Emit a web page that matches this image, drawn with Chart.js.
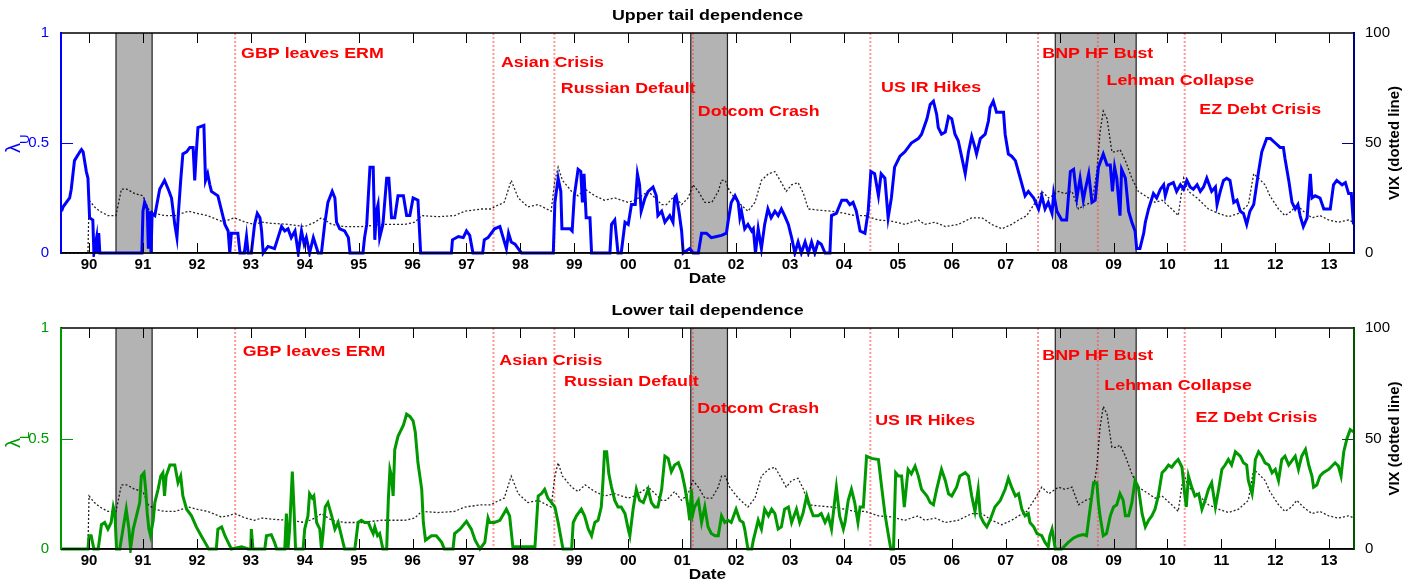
<!DOCTYPE html>
<html>
<head>
<meta charset="utf-8">
<title>Tail dependence and VIX</title>
<script src="https://cdn.jsdelivr.net/npm/chart.js@4.4.1/dist/chart.umd.min.js"></script>
<style>
  body { margin: 0; background: #fff; }
  #wrap { position: relative; width: 1418px; height: 585px; }
  canvas { position: absolute; left: 0; }
</style>
</head>
<body>
<div id="wrap">
  <canvas id="upperChart" width="1418" height="295" style="top:0"></canvas>
  <canvas id="lowerChart" width="1418" height="290" style="top:295px"></canvas>
</div>
<script>
// x axis: decimal years, labelled with two-digit years
const yearTicks = [1990, 1991, 1992, 1993, 1994, 1995, 1996, 1997, 1998, 1999, 2000, 2001,
  2002, 2003, 2004, 2005, 2006, 2007, 2008, 2009, 2010, 2011, 2012, 2013];
const lambdaTicks = [0, 0.5, 1];
const vixTicks = [0, 50, 100];

// recessions (shaded) and market events (red dotted lines)
const recessionStarts = [1990.5, 2001.16, 2007.92];
const recessionEnds = [1991.17, 2001.84, 2009.42];
const eventNames = ['GBP leaves ERM', 'Asian Crisis', 'Russian Default', 'Dotcom Crash',
  'US IR Hikes', 'BNP HF Bust', 'Lehman Collapse', 'EZ Debt Crisis'];
const eventDates = [1992.71, 1997.5, 1998.63, 2001.2, 2004.49, 2007.6, 2008.71, 2010.32];

// upper tail dependence [date, lambda_U]
const upperTail = [
  [1989.49, 0.19], [1989.52, 0.21], [1989.64, 0.25], [1989.67, 0.29], [1989.73, 0.42], [1989.83, 0.46],
  [1989.86, 0.47], [1989.89, 0.46], [1989.95, 0.37], [1989.98, 0.34], [1990.01, 0.16], [1990.07, 0.15],
  [1990.09, 0], [1990.14, 0.07], [1990.15, 0], [1990.18, 0.09], [1990.2, 0], [1990.98, 0],
  [1991.0, 0.19], [1991.03, 0.23], [1991.08, 0.2], [1991.1, 0.02], [1991.13, 0.19], [1991.15, 0],
  [1991.17, 0.18], [1991.22, 0.17], [1991.31, 0.29], [1991.4, 0.33], [1991.47, 0.29], [1991.53, 0.25],
  [1991.59, 0.13], [1991.63, 0.07], [1991.66, 0.19], [1991.7, 0.33], [1991.74, 0.45], [1991.81, 0.46],
  [1991.87, 0.48], [1991.93, 0.48], [1991.96, 0.33], [1991.99, 0.46], [1992.02, 0.57], [1992.13, 0.58],
  [1992.16, 0.33], [1992.2, 0.36], [1992.24, 0.31], [1992.27, 0.28], [1992.39, 0.26], [1992.46, 0.19],
  [1992.52, 0.13], [1992.58, 0.1], [1992.61, 0], [1992.64, 0.09], [1992.76, 0.09], [1992.8, 0],
  [1992.88, 0], [1992.92, 0.075], [1992.95, 0], [1993.01, 0], [1993.07, 0.13], [1993.12, 0.18],
  [1993.17, 0.16], [1993.2, 0.1], [1993.23, 0], [1993.32, 0.03], [1993.44, 0.02], [1993.57, 0.12],
  [1993.63, 0.1], [1993.69, 0.11], [1993.75, 0.07], [1993.82, 0.1], [1993.88, 0], [1993.94, 0.1],
  [1993.99, 0.04], [1994.03, 0.07], [1994.09, 0], [1994.16, 0.07], [1994.25, 0], [1994.31, 0],
  [1994.37, 0.13], [1994.43, 0.23], [1994.51, 0.28], [1994.56, 0.25], [1994.59, 0.14], [1994.65, 0.11],
  [1994.74, 0.1], [1994.81, 0.07], [1994.84, 0], [1995.08, 0], [1995.11, 0.07], [1995.15, 0.13],
  [1995.21, 0.39], [1995.27, 0.39], [1995.3, 0.06], [1995.33, 0.19], [1995.36, 0.22], [1995.39, 0.07],
  [1995.45, 0.13], [1995.52, 0.34], [1995.56, 0.34], [1995.61, 0.16], [1995.67, 0.16], [1995.73, 0.26],
  [1995.83, 0.26], [1995.89, 0.17], [1995.95, 0.17], [1996.01, 0.25], [1996.1, 0.24], [1996.15, 0],
  [1996.72, 0], [1996.74, 0.06], [1996.85, 0.075], [1996.94, 0.07], [1997.0, 0.1], [1997.06, 0.08],
  [1997.12, 0], [1997.3, 0], [1997.33, 0.06], [1997.4, 0.07], [1997.52, 0.11], [1997.62, 0.12],
  [1997.68, 0.07], [1997.74, 0.02], [1997.78, 0.09], [1997.83, 0.05], [1997.9, 0.04], [1997.96, 0.02],
  [1998.02, 0], [1998.61, 0], [1998.64, 0.23], [1998.7, 0.34], [1998.75, 0.28], [1998.77, 0.11],
  [1998.85, 0.11], [1998.92, 0.11], [1998.96, 0.1], [1999.0, 0.26], [1999.07, 0.38], [1999.12, 0.37],
  [1999.15, 0.23], [1999.18, 0.36], [1999.22, 0.16], [1999.29, 0.16], [1999.32, 0], [1999.66, 0],
  [1999.69, 0.13], [1999.75, 0.15], [1999.81, 0], [1999.87, 0], [1999.94, 0.14], [2000.0, 0.13],
  [2000.06, 0.22], [2000.13, 0.22], [2000.17, 0.36], [2000.21, 0.31], [2000.24, 0.19], [2000.31, 0.25],
  [2000.37, 0.28], [2000.46, 0.3], [2000.52, 0.26], [2000.55, 0.17], [2000.62, 0.19], [2000.68, 0.14],
  [2000.77, 0.17], [2000.83, 0.14], [2000.86, 0.25], [2000.89, 0.26], [2000.94, 0.19], [2000.99, 0.1],
  [2001.02, 0], [2001.14, 0.02], [2001.2, 0], [2001.3, 0], [2001.36, 0.09], [2001.45, 0.09],
  [2001.54, 0.07], [2001.64, 0.075], [2001.73, 0.08], [2001.82, 0.09], [2001.85, 0.14], [2001.91, 0.23],
  [2001.98, 0.26], [2002.04, 0.23], [2002.07, 0.16], [2002.1, 0.19], [2002.16, 0.11], [2002.22, 0.13],
  [2002.29, 0.1], [2002.32, 0.11], [2002.36, 0], [2002.41, 0.11], [2002.47, 0.02], [2002.53, 0.13],
  [2002.59, 0.2], [2002.65, 0.16], [2002.72, 0.19], [2002.78, 0.17], [2002.84, 0.2], [2002.9, 0.17],
  [2002.97, 0.13], [2003.03, 0.07], [2003.09, 0], [2003.15, 0.05], [2003.21, 0], [2003.28, 0.05],
  [2003.34, 0], [2003.4, 0.05], [2003.46, 0], [2003.52, 0.05], [2003.58, 0.04], [2003.65, 0],
  [2003.74, 0], [2003.77, 0.17], [2003.86, 0.18], [2003.96, 0.24], [2004.05, 0.24], [2004.11, 0.22],
  [2004.17, 0.23], [2004.23, 0.19], [2004.3, 0.1], [2004.39, 0.09], [2004.45, 0.19], [2004.5, 0.37],
  [2004.57, 0.36], [2004.64, 0.26], [2004.69, 0.36], [2004.76, 0.34], [2004.82, 0.16], [2004.88, 0.25],
  [2004.94, 0.39], [2005.04, 0.44], [2005.13, 0.46], [2005.25, 0.5], [2005.38, 0.52], [2005.44, 0.54],
  [2005.54, 0.61], [2005.6, 0.675], [2005.66, 0.69], [2005.72, 0.63], [2005.75, 0.57], [2005.81, 0.54],
  [2005.88, 0.55], [2005.94, 0.62], [2006.0, 0.61], [2006.06, 0.54], [2006.12, 0.51], [2006.19, 0.43],
  [2006.25, 0.36], [2006.31, 0.46], [2006.37, 0.53], [2006.43, 0.48], [2006.46, 0.45], [2006.53, 0.52],
  [2006.62, 0.54], [2006.68, 0.6], [2006.71, 0.66], [2006.77, 0.69], [2006.83, 0.64], [2006.96, 0.64],
  [2006.99, 0.54], [2007.05, 0.45], [2007.11, 0.44], [2007.18, 0.42], [2007.27, 0.34], [2007.36, 0.26],
  [2007.42, 0.28], [2007.52, 0.25], [2007.61, 0.2], [2007.67, 0.26], [2007.73, 0.2], [2007.79, 0.23],
  [2007.86, 0.18], [2007.89, 0.27], [2007.95, 0.19], [2008.04, 0.15], [2008.13, 0.15], [2008.2, 0.37],
  [2008.26, 0.38], [2008.32, 0.25], [2008.38, 0.34], [2008.44, 0.24], [2008.47, 0.28], [2008.54, 0.36],
  [2008.6, 0.23], [2008.66, 0.24], [2008.72, 0.39], [2008.81, 0.45], [2008.88, 0.4], [2008.94, 0.4],
  [2008.98, 0.28], [2009.02, 0.39], [2009.06, 0.34], [2009.12, 0.17], [2009.15, 0.38], [2009.22, 0.34],
  [2009.28, 0.19], [2009.34, 0.14], [2009.4, 0.1], [2009.43, 0.02], [2009.49, 0.02], [2009.56, 0.09],
  [2009.59, 0.14], [2009.65, 0.2], [2009.74, 0.27], [2009.8, 0.25], [2009.87, 0.29], [2009.93, 0.31],
  [2009.96, 0.26], [2010.02, 0.31], [2010.11, 0.32], [2010.17, 0.28], [2010.24, 0.31], [2010.3, 0.29],
  [2010.36, 0.33], [2010.42, 0.3], [2010.48, 0.29], [2010.55, 0.31], [2010.61, 0.28], [2010.67, 0.3],
  [2010.73, 0.34], [2010.82, 0.28], [2010.89, 0.3], [2010.92, 0.22], [2010.98, 0.28], [2011.04, 0.33],
  [2011.1, 0.34], [2011.16, 0.33], [2011.23, 0.23], [2011.29, 0.24], [2011.35, 0.19], [2011.41, 0.18],
  [2011.47, 0.13], [2011.53, 0.19], [2011.6, 0.22], [2011.69, 0.37], [2011.75, 0.46], [2011.84, 0.52],
  [2011.91, 0.52], [2012.0, 0.5], [2012.09, 0.48], [2012.15, 0.48], [2012.18, 0.43], [2012.25, 0.33],
  [2012.31, 0.23], [2012.37, 0.2], [2012.42, 0.22], [2012.46, 0.17], [2012.52, 0.12], [2012.59, 0.16],
  [2012.62, 0.26], [2012.65, 0.36], [2012.68, 0.25], [2012.74, 0.26], [2012.83, 0.25], [2012.9, 0.2],
  [2013.02, 0.2], [2013.08, 0.31], [2013.14, 0.33], [2013.24, 0.31], [2013.3, 0.32], [2013.36, 0.27],
  [2013.41, 0.27], [2013.45, 0.13]
];

// lower tail dependence [date, lambda_L]
const lowerTail = [
  [1989.48, 0], [1989.98, 0], [1990.0, 0.06], [1990.04, 0.06], [1990.09, 0], [1990.17, 0],
  [1990.23, 0.11], [1990.29, 0.12], [1990.35, 0.09], [1990.41, 0.12], [1990.45, 0.19], [1990.48, 0.16],
  [1990.51, 0], [1990.57, 0], [1990.63, 0.09], [1990.69, 0.18], [1990.74, 0.09], [1990.77, 0],
  [1990.82, 0.09], [1990.88, 0.15], [1990.94, 0.21], [1990.97, 0.33], [1991.02, 0.345], [1991.05, 0.27],
  [1991.08, 0.16], [1991.11, 0.09], [1991.14, 0.06], [1991.19, 0.13], [1991.22, 0.21], [1991.28, 0.27],
  [1991.33, 0.33], [1991.37, 0.345], [1991.4, 0.24], [1991.43, 0.33], [1991.5, 0.38], [1991.59, 0.38],
  [1991.65, 0.3], [1991.7, 0.33], [1991.74, 0.24], [1991.81, 0.18], [1991.9, 0.15], [1991.99, 0.1],
  [1992.08, 0.06], [1992.15, 0.03], [1992.22, 0], [1992.36, 0], [1992.39, 0.09], [1992.46, 0.1],
  [1992.52, 0.06], [1992.58, 0.03], [1992.64, 0], [1992.83, 0.01], [1992.95, 0], [1993.0, 0],
  [1993.01, 0.09], [1993.04, 0], [1993.26, 0], [1993.29, 0.06], [1993.38, 0.065], [1993.44, 0.03],
  [1993.48, 0], [1993.63, 0], [1993.66, 0.16], [1993.69, 0], [1993.72, 0.09], [1993.77, 0.35],
  [1993.8, 0.19], [1993.83, 0], [1993.97, 0], [1994.0, 0.09], [1994.06, 0.15], [1994.09, 0.25],
  [1994.14, 0.23], [1994.17, 0.24], [1994.22, 0.12], [1994.28, 0.09], [1994.31, 0], [1994.34, 0.07],
  [1994.38, 0.19], [1994.43, 0.21], [1994.5, 0.15], [1994.56, 0.09], [1994.62, 0.12], [1994.68, 0.06],
  [1994.74, 0], [1994.93, 0], [1994.99, 0.12], [1995.05, 0.13], [1995.11, 0.12], [1995.18, 0.12],
  [1995.23, 0.09], [1995.27, 0.07], [1995.3, 0.1], [1995.35, 0.06], [1995.39, 0.07], [1995.45, 0],
  [1995.52, 0], [1995.55, 0.22], [1995.58, 0.36], [1995.61, 0.33], [1995.64, 0.24], [1995.67, 0.45],
  [1995.73, 0.51], [1995.83, 0.56], [1995.89, 0.61], [1995.95, 0.6], [1996.01, 0.58], [1996.05, 0.53],
  [1996.1, 0.39], [1996.17, 0.27], [1996.2, 0.12], [1996.24, 0.04], [1996.35, 0.06], [1996.44, 0.06],
  [1996.54, 0.03], [1996.59, 0], [1996.75, 0], [1996.78, 0.07], [1996.88, 0.09], [1997.0, 0.125],
  [1997.09, 0.09], [1997.16, 0.04], [1997.25, 0], [1997.34, 0.03], [1997.4, 0.14], [1997.43, 0.12],
  [1997.52, 0.12], [1997.62, 0.13], [1997.74, 0.18], [1997.8, 0.15], [1997.86, 0.01], [1998.27, 0.01],
  [1998.33, 0.24], [1998.39, 0.25], [1998.45, 0.27], [1998.51, 0.23], [1998.58, 0.21], [1998.64, 0.19],
  [1998.7, 0.12], [1998.79, 0], [1998.95, 0], [1998.98, 0.12], [1999.04, 0.15], [1999.13, 0.18],
  [1999.19, 0.15], [1999.26, 0.09], [1999.32, 0.06], [1999.38, 0.12], [1999.44, 0.13], [1999.5, 0.19],
  [1999.53, 0.3], [1999.56, 0.44], [1999.6, 0.44], [1999.64, 0.34], [1999.69, 0.28], [1999.75, 0.22],
  [1999.81, 0.19], [1999.87, 0.19], [1999.94, 0.16], [2000.0, 0.09], [2000.03, 0.06], [2000.09, 0.18],
  [2000.15, 0.27], [2000.21, 0.22], [2000.28, 0.21], [2000.34, 0.25], [2000.37, 0.27], [2000.43, 0.21],
  [2000.49, 0.19], [2000.55, 0.19], [2000.62, 0.27], [2000.68, 0.42], [2000.74, 0.41], [2000.8, 0.35],
  [2000.86, 0.38], [2000.93, 0.39], [2000.99, 0.35], [2001.05, 0.28], [2001.11, 0.19], [2001.14, 0.13],
  [2001.17, 0.27], [2001.2, 0.16], [2001.23, 0.19], [2001.3, 0.22], [2001.36, 0.12], [2001.42, 0.19],
  [2001.48, 0.1], [2001.54, 0.07], [2001.61, 0.06], [2001.67, 0.06], [2001.73, 0.15], [2001.79, 0.12],
  [2001.85, 0.13], [2001.91, 0.12], [2002.0, 0.18], [2002.07, 0.13], [2002.13, 0.12], [2002.16, 0.09],
  [2002.22, 0], [2002.29, 0], [2002.32, 0.04], [2002.35, 0.07], [2002.41, 0.13], [2002.47, 0.09],
  [2002.53, 0.18], [2002.6, 0.15], [2002.66, 0.18], [2002.72, 0.16], [2002.78, 0.09], [2002.84, 0.1],
  [2002.9, 0.18], [2002.97, 0.19], [2003.03, 0.12], [2003.12, 0.18], [2003.18, 0.12], [2003.24, 0.16],
  [2003.31, 0.24], [2003.37, 0.19], [2003.43, 0.15], [2003.52, 0.15], [2003.58, 0.16], [2003.65, 0.12],
  [2003.71, 0.15], [2003.77, 0.09], [2003.83, 0.22], [2003.86, 0.28], [2003.92, 0.15], [2003.99, 0.09],
  [2004.02, 0.12], [2004.08, 0.22], [2004.14, 0.27], [2004.2, 0.21], [2004.26, 0.12], [2004.3, 0.19],
  [2004.36, 0.19], [2004.42, 0.42], [2004.51, 0.41], [2004.64, 0.405], [2004.7, 0.28], [2004.76, 0.16],
  [2004.82, 0.07], [2004.87, 0], [2004.92, 0], [2004.96, 0.345], [2005.01, 0.33], [2005.07, 0.33],
  [2005.12, 0.19], [2005.19, 0.36], [2005.25, 0.34], [2005.32, 0.375], [2005.38, 0.33], [2005.44, 0.27],
  [2005.54, 0.24], [2005.6, 0.21], [2005.66, 0.2], [2005.72, 0.27], [2005.81, 0.36], [2005.88, 0.31],
  [2005.94, 0.25], [2006.0, 0.24], [2006.09, 0.28], [2006.15, 0.33], [2006.25, 0.345], [2006.31, 0.33],
  [2006.37, 0.24], [2006.43, 0.17], [2006.49, 0.27], [2006.53, 0.15], [2006.59, 0.12], [2006.65, 0.1],
  [2006.71, 0.13], [2006.8, 0.19], [2006.9, 0.22], [2006.99, 0.27], [2007.05, 0.32], [2007.11, 0.28],
  [2007.18, 0.24], [2007.24, 0.25], [2007.3, 0.18], [2007.36, 0.15], [2007.42, 0.16], [2007.45, 0.12],
  [2007.52, 0.1], [2007.58, 0.07], [2007.67, 0.06], [2007.73, 0.03], [2007.79, 0.01], [2007.82, 0.06],
  [2007.86, 0.09], [2007.92, 0], [2008.04, 0], [2008.16, 0.03], [2008.26, 0.05], [2008.35, 0.06],
  [2008.44, 0.065], [2008.5, 0.06], [2008.57, 0.19], [2008.63, 0.3], [2008.69, 0.3], [2008.72, 0.21],
  [2008.75, 0.15], [2008.81, 0.06], [2008.87, 0.07], [2008.94, 0.15], [2009.0, 0.19], [2009.06, 0.2],
  [2009.12, 0.25], [2009.18, 0.22], [2009.22, 0.15], [2009.28, 0.15], [2009.34, 0.21], [2009.4, 0.31],
  [2009.46, 0.28], [2009.53, 0.16], [2009.59, 0.1], [2009.65, 0.13], [2009.71, 0.15], [2009.77, 0.18],
  [2009.83, 0.24], [2009.9, 0.345], [2009.96, 0.36], [2010.02, 0.38], [2010.08, 0.37], [2010.14, 0.39],
  [2010.2, 0.405], [2010.27, 0.37], [2010.32, 0.25], [2010.35, 0.19], [2010.39, 0.33], [2010.45, 0.28],
  [2010.51, 0.24], [2010.58, 0.25], [2010.64, 0.18], [2010.7, 0.22], [2010.76, 0.27], [2010.82, 0.3],
  [2010.89, 0.19], [2010.95, 0.27], [2011.01, 0.36], [2011.07, 0.38], [2011.13, 0.405], [2011.19, 0.38],
  [2011.26, 0.44], [2011.35, 0.42], [2011.41, 0.39], [2011.47, 0.38], [2011.5, 0.31], [2011.57, 0.25],
  [2011.6, 0.31], [2011.63, 0.405], [2011.69, 0.44], [2011.75, 0.42], [2011.81, 0.39], [2011.88, 0.38],
  [2011.94, 0.345], [2012.0, 0.36], [2012.06, 0.31], [2012.12, 0.405], [2012.18, 0.42], [2012.25, 0.38],
  [2012.31, 0.4], [2012.37, 0.42], [2012.43, 0.36], [2012.49, 0.42], [2012.56, 0.45], [2012.62, 0.38],
  [2012.68, 0.33], [2012.71, 0.28], [2012.77, 0.29], [2012.83, 0.33], [2012.89, 0.345], [2012.99, 0.36],
  [2013.11, 0.39], [2013.17, 0.375], [2013.22, 0.33], [2013.27, 0.44], [2013.33, 0.5], [2013.39, 0.54],
  [2013.45, 0.53]
];

// VIX level [date, index], same series in both panels
const vixLevel = [
  [1989.48, 0], [1989.98, 0], [1990.0, 24], [1990.1, 21], [1990.2, 19], [1990.35, 17], [1990.5, 17],
  [1990.6, 29], [1990.7, 29], [1990.85, 27], [1991.0, 26], [1991.1, 20], [1991.22, 18], [1991.4, 17],
  [1991.6, 17], [1991.84, 19], [1992.0, 18], [1992.2, 17], [1992.45, 14.5], [1992.58, 15], [1992.7, 16],
  [1992.9, 14], [1993.07, 13], [1993.2, 14], [1993.38, 13.5], [1993.7, 13], [1994.0, 12], [1994.19, 14],
  [1994.31, 16], [1994.5, 13], [1994.74, 12], [1995.05, 12], [1995.42, 13], [1995.86, 13], [1996.04, 14],
  [1996.17, 17], [1996.47, 16.5], [1996.78, 17], [1996.97, 19], [1997.28, 20], [1997.46, 20], [1997.52, 21],
  [1997.7, 23], [1997.83, 33], [1997.96, 25], [1998.14, 21], [1998.33, 22], [1998.57, 19], [1998.64, 33],
  [1998.7, 39], [1998.78, 33], [1998.85, 31], [1998.95, 28], [1999.07, 26], [1999.2, 29], [1999.38, 26],
  [1999.56, 24], [1999.75, 25], [2000.0, 23], [2000.12, 24], [2000.25, 26], [2000.37, 28], [2000.5, 25],
  [2000.62, 22], [2000.71, 22], [2000.86, 26], [2000.99, 22], [2001.11, 25], [2001.2, 31], [2001.3, 28],
  [2001.42, 23], [2001.55, 23], [2001.67, 28], [2001.73, 33], [2001.8, 33], [2001.88, 28], [2002.04, 23],
  [2002.22, 19], [2002.35, 23], [2002.47, 33], [2002.6, 36], [2002.72, 37], [2002.84, 32], [2002.93, 28],
  [2003.03, 31], [2003.15, 32], [2003.25, 27], [2003.34, 20], [2003.52, 19.5], [2003.77, 19], [2004.02, 18],
  [2004.2, 17], [2004.39, 17], [2004.64, 15], [2004.88, 14.5], [2005.13, 13], [2005.25, 14], [2005.38, 15],
  [2005.5, 13], [2005.69, 14], [2005.88, 12], [2006.12, 13], [2006.37, 16], [2006.56, 16], [2006.74, 13],
  [2006.93, 11], [2007.11, 13], [2007.24, 15], [2007.39, 17], [2007.55, 23], [2007.67, 28], [2007.8, 25],
  [2007.98, 28], [2008.1, 27], [2008.23, 28], [2008.35, 20], [2008.48, 22], [2008.6, 23], [2008.69, 37],
  [2008.75, 55], [2008.81, 64.5], [2008.88, 61], [2008.97, 46], [2009.05, 46], [2009.12, 47], [2009.22, 42],
  [2009.34, 34], [2009.46, 28], [2009.65, 25], [2009.77, 23], [2009.9, 24], [2010.08, 20], [2010.2, 17],
  [2010.3, 34], [2010.39, 28], [2010.55, 25], [2010.76, 20], [2010.95, 18], [2011.13, 16.5], [2011.32, 18],
  [2011.5, 22], [2011.6, 36], [2011.69, 34], [2011.81, 31], [2011.9, 26], [2012.06, 20], [2012.18, 17],
  [2012.3, 19], [2012.4, 22], [2012.52, 19], [2012.68, 16], [2012.83, 17], [2012.99, 15], [2013.17, 14],
  [2013.36, 15], [2013.46, 14]
];

const FONT = "'Liberation Sans', Arial, Helvetica, sans-serif";

function toPoints(series) {
  return series.map(p => ({ x: p[0], y: p[1] }));
}

// horizontal text is a little wider than tall in the original figure
function wideText(ctx, text, x, y, align) {
  ctx.save();
  ctx.translate(x, y);
  ctx.scale(1.15, 1);
  ctx.textAlign = align;
  ctx.textBaseline = 'middle';
  ctx.fillText(text, 0, 0);
  ctx.restore();
}

function makeDecor(cfg) {
  return {
    id: 'decor',
    beforeDatasetsDraw(chart) {
      const { ctx, chartArea: a, scales: { x } } = chart;
      ctx.save();
      for (let i = 0; i < recessionStarts.length; i++) {
        const x0 = x.getPixelForValue(recessionStarts[i]);
        const x1 = x.getPixelForValue(recessionEnds[i]);
        ctx.fillStyle = '#b3b3b3';
        ctx.fillRect(x0, a.top, x1 - x0, a.bottom - a.top);
        ctx.strokeStyle = '#222';
        ctx.lineWidth = 1.2;
        ctx.beginPath();
        ctx.moveTo(x0, a.top); ctx.lineTo(x0, a.bottom);
        ctx.moveTo(x1, a.top); ctx.lineTo(x1, a.bottom);
        ctx.stroke();
      }
      ctx.strokeStyle = 'rgba(255,70,70,0.55)';
      ctx.lineWidth = 2;
      ctx.setLineDash([2, 2]);
      eventDates.forEach(d => {
        const px = x.getPixelForValue(d);
        ctx.beginPath();
        ctx.moveTo(px, a.top);
        ctx.lineTo(px, a.bottom);
        ctx.stroke();
      });
      ctx.restore();
    },
    afterDatasetsDraw(chart) {
      const { ctx, chartArea: a, scales: { x, y } } = chart;
      ctx.save();

      // event names
      ctx.fillStyle = '#ff0000';
      ctx.font = 'bold 15.5px ' + FONT;
      eventNames.forEach((name, i) => {
        wideText(ctx, name, x.getPixelForValue(cfg.labelYears[i]), y.getPixelForValue(cfg.labelLevels[i]), 'left');
      });

      // box
      ctx.lineWidth = 1.5;
      ctx.strokeStyle = '#000';
      ctx.beginPath();
      ctx.moveTo(a.left, a.top); ctx.lineTo(a.right, a.top);
      ctx.moveTo(a.left, a.bottom); ctx.lineTo(a.right, a.bottom);
      ctx.stroke();
      ctx.lineWidth = 2;
      ctx.strokeStyle = cfg.color;
      ctx.beginPath(); ctx.moveTo(a.left, a.top); ctx.lineTo(a.left, a.bottom); ctx.stroke();
      ctx.strokeStyle = cfg.rightColor;
      ctx.beginPath(); ctx.moveTo(a.right, a.top); ctx.lineTo(a.right, a.bottom); ctx.stroke();

      // inward tick marks
      ctx.lineWidth = 1;
      ctx.strokeStyle = '#000';
      ctx.beginPath();
      yearTicks.forEach(v => {
        const px = Math.round(x.getPixelForValue(v)) + 0.5;
        ctx.moveTo(px, a.bottom); ctx.lineTo(px, a.bottom - 10);
        ctx.moveTo(px, a.top); ctx.lineTo(px, a.top + 10);
      });
      ctx.stroke();
      const midY = Math.round(y.getPixelForValue(0.5)) + 0.5;
      ctx.strokeStyle = cfg.color;
      ctx.beginPath(); ctx.moveTo(a.left, midY); ctx.lineTo(a.left + 12, midY); ctx.stroke();
      ctx.strokeStyle = cfg.rightColor;
      ctx.beginPath(); ctx.moveTo(a.right, midY); ctx.lineTo(a.right - 12, midY); ctx.stroke();

      // titles
      ctx.fillStyle = '#000';
      ctx.font = 'bold 15.5px ' + FONT;
      wideText(ctx, cfg.title, (a.left + a.right) / 2, a.top - 17, 'center');
      ctx.font = 'bold 15px ' + FONT;
      wideText(ctx, 'Date', (a.left + a.right) / 2, a.bottom + 26, 'center');

      // right axis title
      ctx.save();
      ctx.translate(a.right + 41, (a.top + a.bottom) / 2);
      ctx.rotate(-Math.PI / 2);
      ctx.textAlign = 'center';
      ctx.textBaseline = 'middle';
      ctx.font = 'bold 15px ' + FONT;
      ctx.fillText('VIX (dotted line)', 0, 0);
      ctx.restore();

      // left axis title: lambda with subscript
      ctx.save();
      ctx.translate(a.left - 41, a.top + 120);
      ctx.rotate(-Math.PI / 2);
      ctx.fillStyle = cfg.color;
      ctx.textAlign = 'left';
      ctx.textBaseline = 'alphabetic';
      ctx.font = '20px ' + FONT;
      ctx.fillText('λ', 0, 0);
      const w = ctx.measureText('λ').width;
      ctx.font = '13px ' + FONT;
      ctx.fillText(cfg.sub, w - 1, 9);
      ctx.restore();

      ctx.restore();
    }
  };
}

function makePanel(id, cfg) {
  return new Chart(document.getElementById(id), {
    type: 'line',
    data: {
      datasets: [
        {
          data: toPoints(cfg.series),
          borderColor: cfg.color,
          borderWidth: 3,
          pointRadius: 0,
          tension: 0,
          yAxisID: 'y',
          clip: 4
        },
        {
          data: toPoints(vixLevel),
          borderColor: 'rgba(0,0,0,0.85)',
          borderWidth: 1.3,
          borderDash: [2, 2],
          pointRadius: 0,
          tension: 0,
          yAxisID: 'y2',
          clip: 4
        }
      ]
    },
    options: {
      responsive: false,
      animation: false,
      devicePixelRatio: 1,
      layout: { padding: { top: 33, left: 0, right: 0, bottom: 0 } },
      plugins: { legend: { display: false }, tooltip: { enabled: false } },
      scales: {
        x: {
          type: 'linear',
          min: 1989.48,
          max: 2013.46,
          afterBuildTicks: s => { s.ticks = yearTicks.map(v => ({ value: v })); },
          afterFit: s => { s.height = cfg.axisHeight; },
          grid: { display: false },
          border: { color: '#000', width: 1.5 },
          ticks: {
            color: '#000',
            font: { family: FONT, size: 15, weight: 'bold' },
            padding: -5,
            maxRotation: 0,
            autoSkip: false,
            callback: v => String(v % 100).padStart(2, '0')
          }
        },
        y: {
          position: 'left',
          min: 0,
          max: 1,
          afterBuildTicks: s => { s.ticks = lambdaTicks.map(v => ({ value: v })); },
          afterFit: s => { s.width = 61; },
          grid: { display: false },
          border: { color: cfg.color, width: 2 },
          ticks: { color: cfg.color, font: { family: FONT, size: 15 }, padding: 4, callback: v => String(v) }
        },
        y2: {
          position: 'right',
          min: 0,
          max: 100,
          afterBuildTicks: s => { s.ticks = vixTicks.map(v => ({ value: v })); },
          afterFit: s => { s.width = 64; },
          grid: { display: false },
          border: { color: cfg.rightColor, width: 2 },
          ticks: { color: '#000', font: { family: FONT, size: 15 }, padding: 3, callback: v => String(v) }
        }
      }
    },
    plugins: [makeDecor(cfg)]
  });
}

makePanel('upperChart', {
  title: 'Upper tail dependence',
  series: upperTail,
  color: '#0000ff',
  rightColor: '#000080',
  sub: 'U',
  axisHeight: 42,
  labelYears: [1992.82, 1997.64, 1998.75, 2001.29, 2004.69, 2007.68, 2008.87, 2010.59],
  labelLevels: [0.905, 0.864, 0.745, 0.641, 0.75, 0.905, 0.782, 0.65]
});

makePanel('lowerChart', {
  title: 'Lower tail dependence',
  series: lowerTail,
  color: '#009900',
  rightColor: '#005500',
  sub: 'L',
  axisHeight: 36,
  labelYears: [1992.85, 1997.61, 1998.81, 2001.28, 2004.58, 2007.68, 2008.83, 2010.52],
  labelLevels: [0.891, 0.852, 0.757, 0.635, 0.58, 0.876, 0.739, 0.594]
});
</script>
</body>
</html>
